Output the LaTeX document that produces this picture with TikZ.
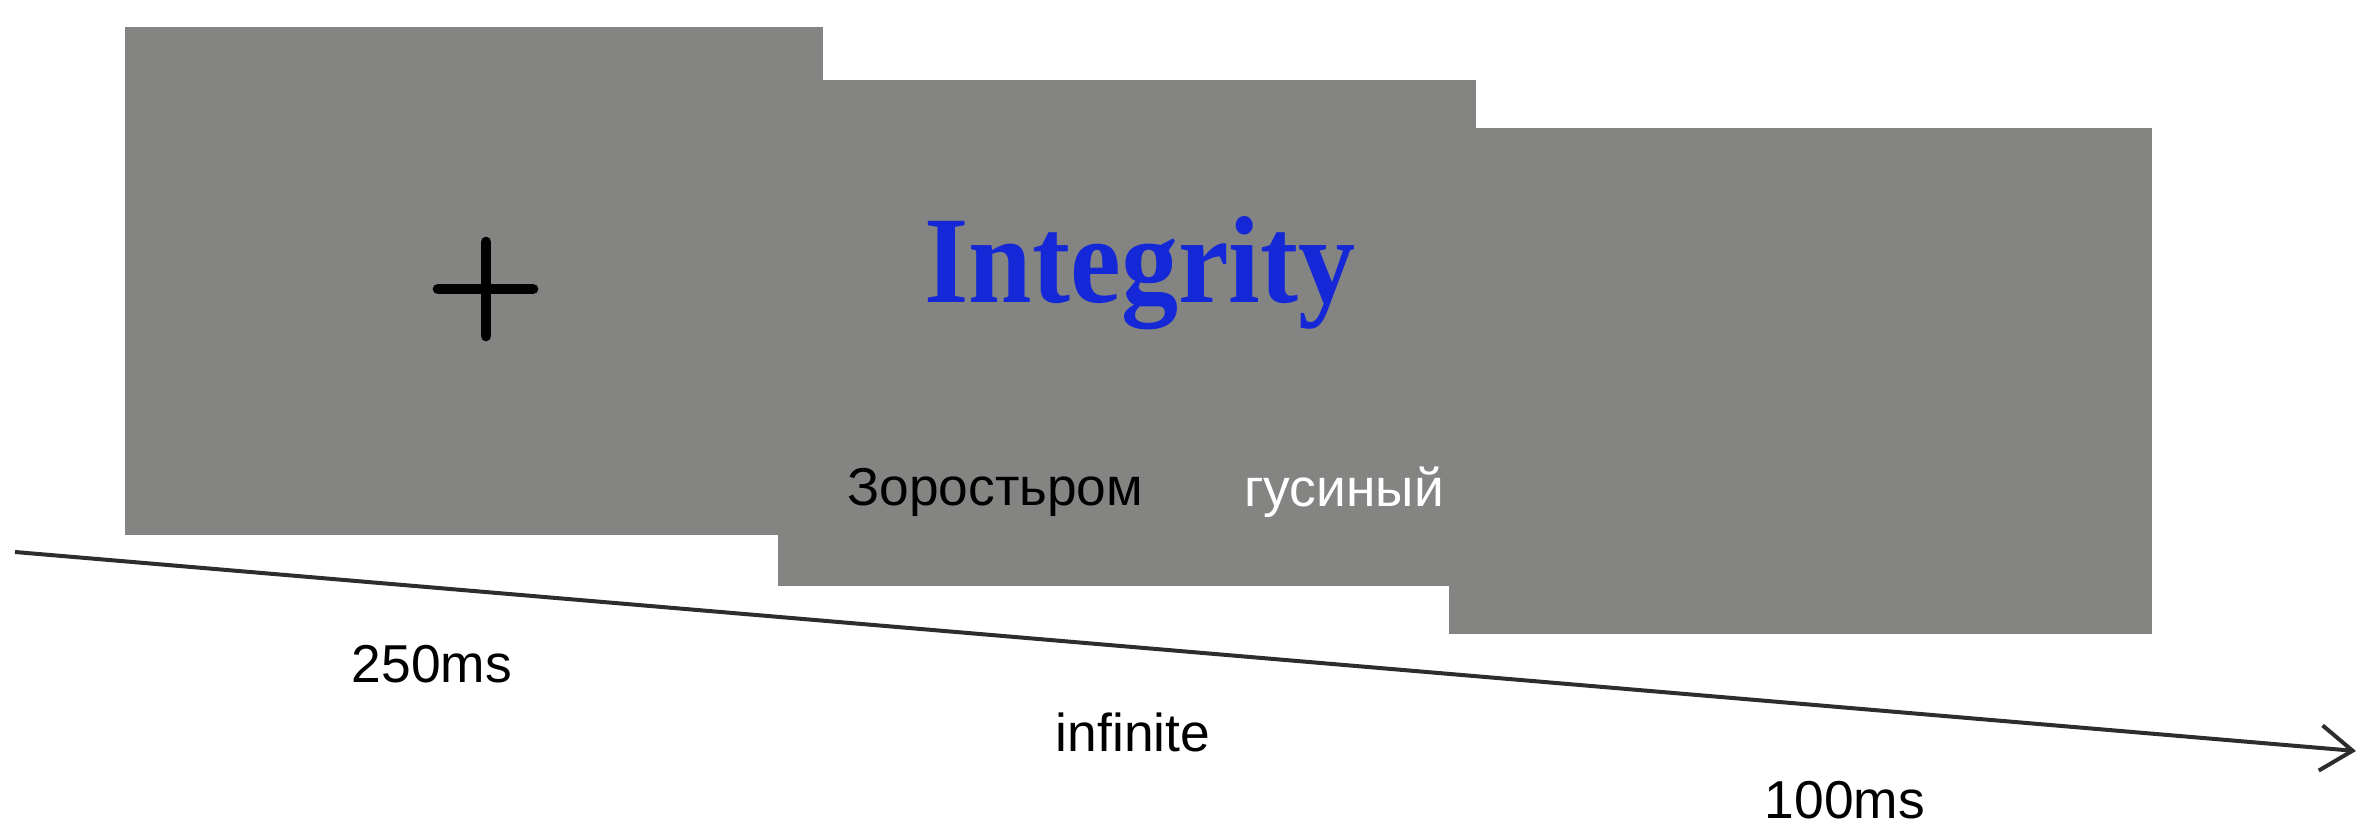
\documentclass[tikz,border=0pt]{standalone}
\usepackage{fontspec}
\setmainfont{Liberation Sans}
\newfontfamily\wordfont[FakeStretch=0.92]{Liberation Serif}
\usepackage{tikz}
\usetikzlibrary{arrows.meta}
\usepackage{xcolor}
\definecolor{screengray}{RGB}{132,133,131}
\definecolor{wordblue}{RGB}{20,40,215}
\definecolor{axisgray}{RGB}{45,45,45}

\begin{document}
\begin{tikzpicture}[x=0.75pt,y=0.75pt,yscale=-1,xscale=1]
\useasboundingbox (0,0) rectangle (2374,838);

%Shape: Rectangle [fixation screen]
\fill [screengray]  (125,27) -- (823,27) -- (823,535) -- (125,535) -- cycle ;
%Shape: Rectangle [word screen]
\fill [screengray]  (778,80) -- (1476,80) -- (1476,586) -- (778,586) -- cycle ;
%Shape: Rectangle [blank screen]
\fill [screengray]  (1449,128) -- (2152,128) -- (2152,634) -- (1449,634) -- cycle ;

%Straight Lines [fixation cross]
\draw [line width=8pt, line cap=round]  (438,289) -- (533,289) ;
\draw [line width=8pt, line cap=round]  (486,242) -- (486,336) ;

%Straight Lines [time axis]
\coordinate (tstart) at (15,552) ;
\coordinate (tend) at (2356,751) ;
\draw [axisgray, line width=3pt, -{Straight Barb[length=24pt,width=34pt,line width=3pt]}]  (tstart) -- (tend) ;

% Text Node
\draw (1140,302) node (word) [anchor=base][inner sep=0pt] {\wordfont\bfseries\fontsize{93}{110}\selectfont\color{wordblue}Integrity};
% Text Node
\draw (847,505) node (optleft) [anchor=base west][inner sep=0pt] {\fontsize{40}{48}\selectfont Зоростьром};
% Text Node
\draw (1244,506) node (optright) [anchor=base west][inner sep=0pt] {\fontsize{40}{48}\selectfont\color{white}гусиный};
% Text Node
\draw (432,682) node (tfix) [anchor=base][inner sep=0pt] {\fontsize{40}{48}\selectfont 250ms};
% Text Node
\draw (1133,751) node (tword) [anchor=base][inner sep=0pt] {\fontsize{40}{48}\selectfont infinite};
% Text Node
\draw (1845,818) node (tblank) [anchor=base][inner sep=0pt] {\fontsize{40}{48}\selectfont 100ms};

\end{tikzpicture}
\end{document}
